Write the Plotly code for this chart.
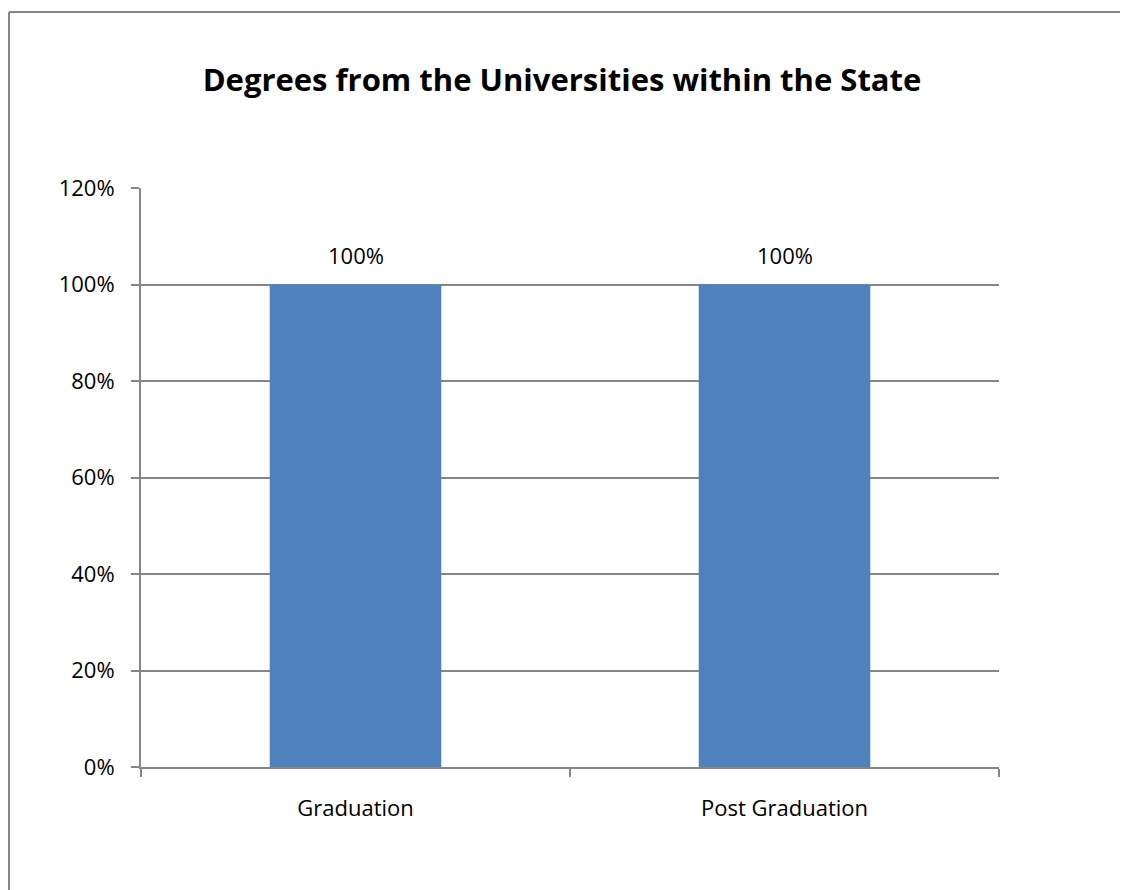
import plotly.graph_objects as go

categories = ["Graduation", "Post Graduation"]
values = [1.0, 1.0]
value_labels = ["100%", "100%"]
y_ticks = [0, 0.2, 0.4, 0.6, 0.8, 1.0, 1.2]
y_tick_labels = ["0%", "20%", "40%", "60%", "80%", "100%", "120%"]
title_text = "Degrees from the Universities within the State"

FONT = "Open Sans"
GRID = "#868686"
FS = 22

fig = go.Figure(
    go.Bar(
        x=categories,
        y=values,
        width=0.4,
        marker=dict(color="#4F81BD", line=dict(width=0)),
        hoverinfo="skip",
    )
)

annotations = [
    dict(x=c, y=v, xref="x", yref="y", text=t, showarrow=False,
         yanchor="bottom", yshift=13,
         font=dict(family=FONT, size=FS, color="#000000"))
    for c, v, t in zip(categories, values, value_labels)
]

PW, PH = 858, 579
L, T = 133, 180
fig.update_layout(
    width=1128,
    height=890,
    margin=dict(l=L, r=1128 - L - PW, t=T, b=890 - T - PH),
    paper_bgcolor="white",
    plot_bgcolor="white",
    showlegend=False,
    annotations=annotations,
    title=dict(
        text="<b>" + title_text + "</b>",
        x=554 / 1128,
        xanchor="center",
        xref="container",
        y=1 - 72 / 890,
        yanchor="middle",
        font=dict(family=FONT, size=31, color="#000000"),
    ),
    xaxis=dict(
        showline=True,
        linecolor=GRID,
        linewidth=2,
        ticks="outside",
        tickson="boundaries",
        ticklen=8,
        tickwidth=2,
        tickcolor=GRID,
        showgrid=False,
        tickfont=dict(family=FONT, size=FS, color="#000000"),
        ticklabelstandoff=21,
    ),
    yaxis=dict(
        range=[0, 1.2],
        tickvals=y_ticks,
        ticktext=y_tick_labels,
        showline=True,
        linecolor=GRID,
        linewidth=2,
        ticks="outside",
        ticklen=8,
        tickwidth=2,
        tickcolor=GRID,
        showgrid=True,
        gridcolor=GRID,
        gridwidth=2,
        zeroline=False,
        tickfont=dict(family=FONT, size=FS, color="#000000"),
        ticklabelstandoff=12,
    ),
    shapes=[
        dict(type="line", xref="paper", yref="paper",
             x0=-(L - 1) / PW, x1=1.3, y0=1 + 176 / PH, y1=1 + 176 / PH,
             line=dict(color=GRID, width=2)),
        dict(type="line", xref="paper", yref="paper",
             x0=-(L - 1) / PW, x1=-(L - 1) / PW, y0=-0.5, y1=1 + 176 / PH,
             line=dict(color=GRID, width=2)),
    ],
)

fig.write_html("out.html")
